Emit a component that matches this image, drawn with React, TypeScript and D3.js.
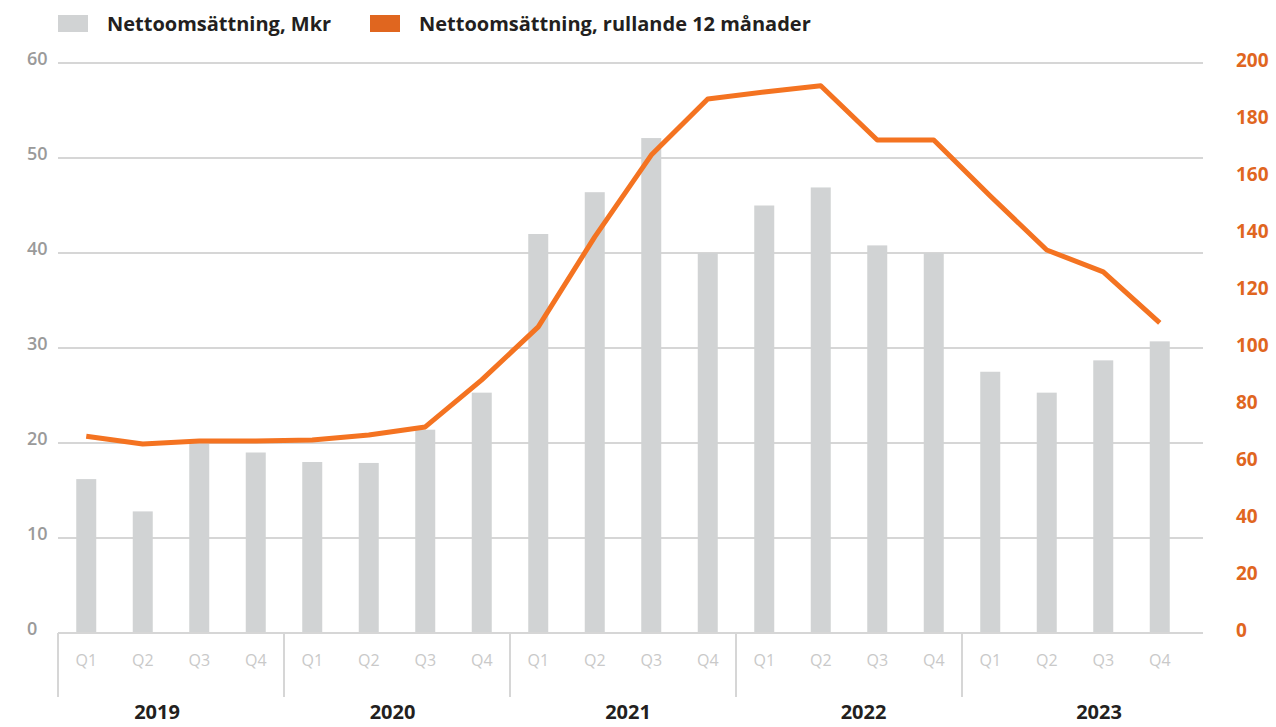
import React from "react";
import * as d3 from "d3";

const years = ["2019", "2020", "2021", "2022", "2023"];
const quarters = ["Q1", "Q2", "Q3", "Q4"];
const barValues = [16.2, 12.8, 20, 19, 18, 17.9, 21.4, 25.3, 42, 46.4, 52.1, 40, 45, 46.9, 40.8, 40, 27.5, 25.3, 28.7, 30.7];
const rollingValues = [69, 66.3, 67.4, 67.4, 67.7, 69.5, 72.3, 88.8, 107.4, 139, 167.7, 187.4, 189.8, 192, 173, 173, 153.3, 134.4, 126.7, 108.8];
const leftTicks = [0, 10, 20, 30, 40, 50, 60];
const rightTicks = [0, 20, 40, 60, 80, 100, 120, 140, 160, 180, 200];
const legendLabels = ["Nettoomsättning, Mkr", "Nettoomsättning, rullande 12 månader"];

const W = 1276, H = 727;

export default function App() {
  const keys = years.flatMap((y) => quarters.map((q) => `${y}-${q}`));
  const x = d3.scaleBand<string>().domain(keys).range([58, 1188]).paddingInner(0.646).paddingOuter(0.323);
  const yearX = d3.scalePoint<string>().domain(years).range([157, 1099]);
  const yL = d3.scaleLinear().domain([0, 60]).range([633, 63]);
  const yR = d3.scaleLinear().domain([0, 200]).range([633, 63]);
  const cx = (k: string) => (x(k) as number) + x.bandwidth() / 2;
  const line = d3.line<number>().x((_, i) => cx(keys[i])).y((v) => yR(v));
  const font = "'Open Sans', Lato, sans-serif";
  const gridX0 = 58, gridX1 = 1203;
  const sepX = (i: number) => (x(keys[i * 4]) as number) - (x.step() - x.bandwidth()) / 2;

  return (
    <svg width={W} height={H} style={{ position: "absolute", left: 0, top: 0 }} fontFamily={font}>
      <rect width={W} height={H} fill="#fff" />
      {/* legend */}
      <rect x={58} y={15} width={30} height={17} fill="#d1d3d4" />
      <text x={107} y={31} fontSize={20} fontWeight={700} fill="#231f20">{legendLabels[0]}</text>
      <rect x={370} y={15} width={30} height={17} fill="#e0661f" />
      <text x={419} y={31} fontSize={20} fontWeight={700} fill="#231f20">{legendLabels[1]}</text>

      {/* grid */}
      {leftTicks.map((t) => (
        <line key={t} x1={gridX0} x2={gridX1} y1={yL(t)} y2={yL(t)} stroke="#d6d6d6" strokeWidth={2} />
      ))}
      {leftTicks.map((t) => (
        <text key={"l" + t} x={27} y={yL(t) - 4} dy="0.35em" fontSize={18} fontWeight={600} fill="#9a9a9a">{t}</text>
      ))}
      {rightTicks.map((t) => (
        <text key={"r" + t} x={1236} y={yR(t) - 3} dy="0.35em" fontSize={19} fontWeight={700} fill="#e0661f">{t}</text>
      ))}

      {/* bars */}
      {barValues.map((v, i) => (
        <rect key={i} x={x(keys[i])} y={yL(v)} width={x.bandwidth()} height={yL(0) - yL(v)} fill="#d1d3d4" />
      ))}

      {/* axis */}
      <line x1={gridX0} x2={gridX1} y1={633} y2={633} stroke="#d6d6d6" strokeWidth={2} />
      {years.map((y, i) => (
        <line key={"s" + y} x1={sepX(i)} x2={sepX(i)} y1={633} y2={697} stroke="#d6d6d6" strokeWidth={2} />
      ))}
      {keys.map((k, i) => (
        <text key={"q" + k} x={cx(k)} y={660} dy="0.35em" textAnchor="middle" fontSize={16} fill="#c9c9c9">{quarters[i % 4]}</text>
      ))}
      {years.map((y) => (
        <text key={"y" + y} x={yearX(y)} y={712} dy="0.35em" textAnchor="middle" fontSize={20} fontWeight={700} fill="#231f20">{y}</text>
      ))}

      {/* line */}
      <path d={line(rollingValues) || ""} fill="none" stroke="#f47321" strokeWidth={5} strokeLinejoin="round" />
    </svg>
  );
}
